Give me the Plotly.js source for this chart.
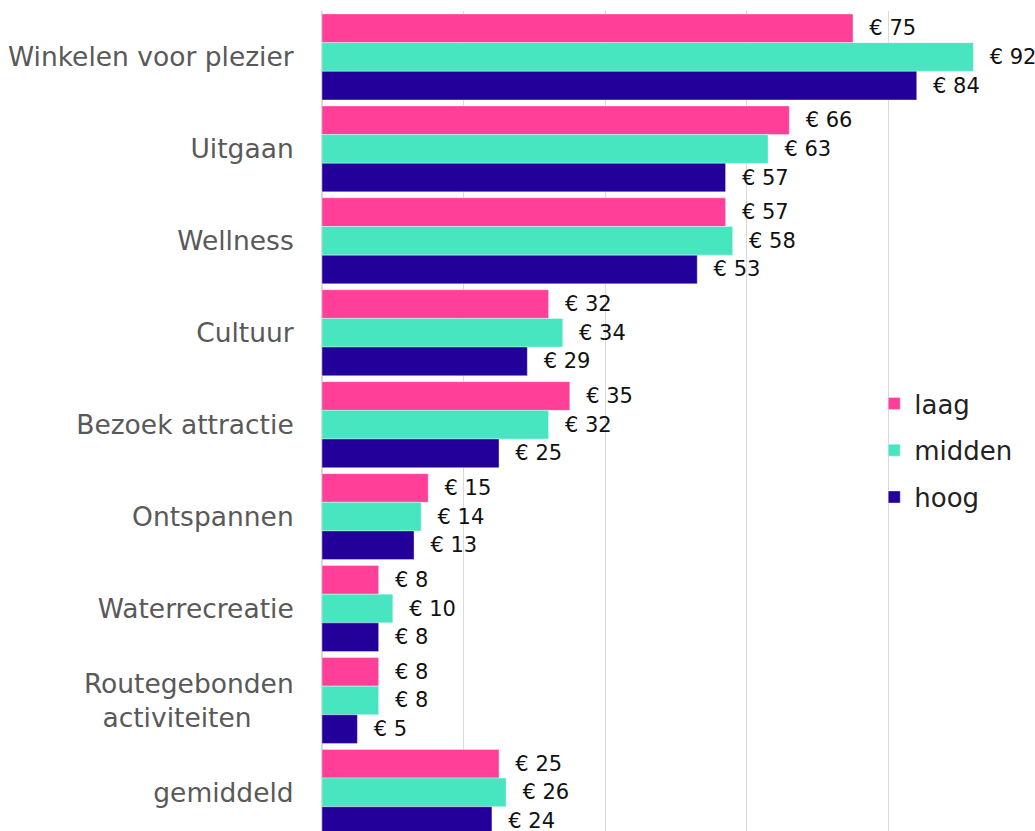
<!DOCTYPE html>
<html>
<head>
<meta charset="utf-8">
<script src="https://cdn.plot.ly/plotly-3.0.1.min.js"></script>
<style>html,body{margin:0;padding:0;background:#fff;}#chart{width:1035px;height:831px;}</style>
</head>
<body>
<div id="chart"></div>
<script>
const categories = ["Winkelen voor plezier", "Uitgaan", "Wellness", "Cultuur", "Bezoek attractie", "Ontspannen", "Waterrecreatie", "Routegebonden<br>activiteiten\u00a0\u00a0\u00a0\u00a0\u00a0", "gemiddeld"];
const laag = [75, 66, 57, 32, 35, 15, 8, 8, 25];
const midden = [92, 63, 58, 34, 32, 14, 10, 8, 26];
const hoog = [84, 57, 53, 29, 25, 13, 8, 5, 24];
const seriesNames = ["laag", "midden", "hoog"];
const colors = ["#FF3F98", "#47E6C1", "#24009B"];

const FONT = "DejaVu Sans, sans-serif";
const traces = [laag, midden, hoog].map((vals, i) => ({
  type: "bar",
  orientation: "h",
  name: seriesNames[i],
  legendgroup: seriesNames[i],
  y: categories,
  x: vals,
  marker: {color: colors[i], line: {color: "rgba(255,255,255,0.6)", width: 0.6}},
  texttemplate: "\u00a0\u00a0€ %{x}",
  textposition: "outside",
  textfont: {family: FONT, size: 21, color: "#111"},
  cliponaxis: false,
  hoverinfo: "x+name"
}));

const layout = {
  width: 1035,
  height: 831,
  margin: {l: 322, r: 5, t: 11, b: 0, pad: 0},
  paper_bgcolor: "#fff",
  plot_bgcolor: "#fff",
  barmode: "group",
  bargap: 0.065,
  bargroupgap: 0,
  font: {family: FONT},
  xaxis: {
    range: [0, 100],
    dtick: 20,
    showticklabels: false,
    showgrid: true,
    gridcolor: "#D9D9D9",
    gridwidth: 1,
    zeroline: true,
    zerolinecolor: "#D9D9D9",
    zerolinewidth: 1.5,
    showline: false
  },
  yaxis: {
    type: "category",
    range: [8.42, -0.5],
    showgrid: false,
    zeroline: false,
    showline: false,
    ticks: "outside",
    ticklen: 22,
    tickcolor: "rgba(0,0,0,0)",
    tickfont: {family: FONT, size: 26.5, color: "#595959"}
  },
  showlegend: true,
  legend: {
    x: 0.78,
    y: 0.55,
    xanchor: "left",
    yanchor: "top",
    traceorder: "grouped",
    tracegroupgap: 10,
    font: {family: FONT, size: 26, color: "#222"},
    bgcolor: "rgba(255,255,255,0)",
    itemwidth: 30
  }
};

Plotly.newPlot("chart", traces, layout, {displayModeBar: false, staticPlot: true});
</script>
</body>
</html>
